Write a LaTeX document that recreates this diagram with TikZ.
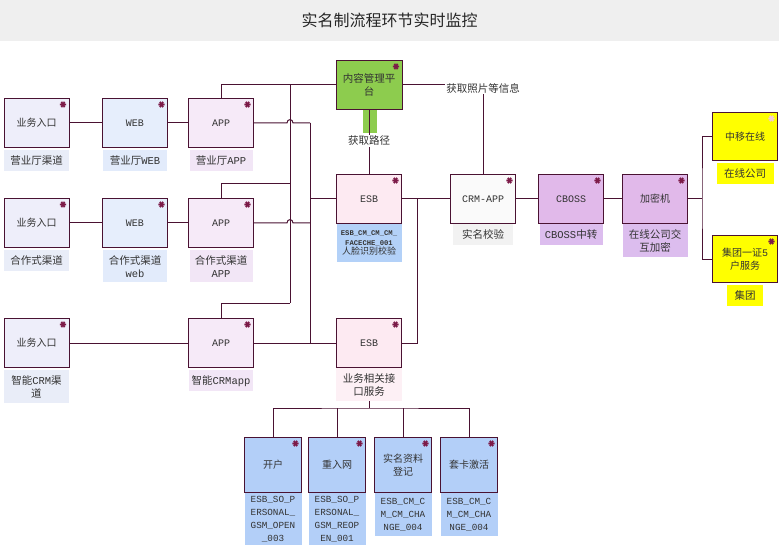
\documentclass[tikz,border=0pt]{standalone}
\usepackage{fontspec}
\setmainfont{Noto Sans CJK SC}
\newfontfamily\codef{Liberation Mono}
\usetikzlibrary{calc}

\definecolor{lc}{HTML}{4A1232}
\definecolor{mkcol}{HTML}{7C1A48}
\definecolor{mkpale}{HTML}{F4CADA}
\definecolor{txt}{HTML}{333333}
\definecolor{titlebg}{HTML}{EFEFEF}
\definecolor{entryfill}{HTML}{EEEEFA}
\definecolor{entrylbl}{HTML}{E9EDF8}
\definecolor{webfill}{HTML}{E6EEFC}
\definecolor{weblbl}{HTML}{E2EBFB}
\definecolor{appfill}{HTML}{F6EAF8}
\definecolor{applbl}{HTML}{F2E6F6}
\definecolor{esbfill}{HTML}{FDEAF2}
\definecolor{esbbluelbl}{HTML}{B3D1F8}
\definecolor{esbpinklbl}{HTML}{FDF0F5}
\definecolor{crmfill}{HTML}{FAFAFA}
\definecolor{crmlbl}{HTML}{F2F2F2}
\definecolor{cbossfill}{HTML}{E1B9EA}
\definecolor{cbosslbl}{HTML}{DCBDEE}
\definecolor{platfill}{HTML}{8DCC4E}
\definecolor{svcfill}{HTML}{B3CFF8}
\definecolor{yel}{HTML}{FFFF00}

% asterisk marker in the top right corner of a box
\newcommand\boxmark[2][mkcol]{%
  \path ($(#2.north east)+(-6.5,6.5)$) coordinate (mkpt);
  \draw[#1, line width=1.7pt]
    (mkpt) +(-3.1,0) -- +(3.1,0)
    (mkpt) +(-1.55,-2.7) -- +(1.55,2.7)
    (mkpt) +(-1.55,2.7) -- +(1.55,-2.7);}

\begin{document}
\begin{tikzpicture}[x=1pt, y=-1pt,
  box/.style={draw=lc, line width=1pt, minimum width=65pt, minimum height=49pt,
    inner sep=1pt, align=center, font=\fontsize{10}{13}\selectfont, text=txt},
  svc/.style={box, fill=svcfill, minimum width=57pt, minimum height=55pt},
  lbl/.style={anchor=north, inner xsep=2pt, inner ysep=5pt, align=center,
    minimum height=21pt, font=\fontsize{10.5}{13}\selectfont, text=txt},
  codelbl/.style={anchor=north, inner xsep=1pt, inner ysep=3pt, align=center,
    fill=svcfill, minimum width=57pt, text=black!80, font=\codef\fontsize{9.3}{13}\selectfont},
  conn/.style={draw=lc, line width=1pt}]

\useasboundingbox (0,0) rectangle (779,556);

% title bar
\node[fill=titlebg, minimum width=779pt, minimum height=41pt, anchor=north west,
  inner sep=0pt, font=\fontsize{16}{16}\selectfont, text=black!85] (title) at (0,0)
  {实名制流程环节实时监控};

% channel boxes
\node[box, fill=entryfill] (e1) at (36.5,123) {业务入口};
\node[box, fill=webfill]   (w1) at (135,123) {\codef WEB};
\node[box, fill=appfill]   (a1) at (221,123) {\codef APP};
\node[box, fill=entryfill] (e2) at (36.5,223) {业务入口};
\node[box, fill=webfill]   (w2) at (135,223) {\codef WEB};
\node[box, fill=appfill]   (a2) at (221,223) {\codef APP};
\node[box, fill=entryfill] (e3) at (36.5,343) {业务入口};
\node[box, fill=appfill]   (a3) at (221,343) {\codef APP};

% platform, bus and back-end boxes
\node[box, fill=platfill, minimum width=66pt, font=\fontsize{10.5}{13}\selectfont]
  (plat) at (369,85) {内容管理平\\台};
\node[box, fill=esbfill]   (esb1) at (369,199) {\codef ESB};
\node[box, fill=crmfill]   (crm) at (483,199) {\codef CRM-APP};
\node[box, fill=cbossfill] (cboss) at (571,199) {\codef CBOSS};
\node[box, fill=cbossfill] (enc) at (655,199) {加密机};
\node[box, fill=yel, minimum height=48pt] (y1) at (745,136.5) {中移在线};
\node[box, fill=yel, minimum height=47pt] (y2) at (745,259) {集团一证{\codef 5}\\户服务};
\node[box, fill=esbfill]   (esb2) at (369,343) {\codef ESB};

% service boxes
\node[svc] (b1) at (273,465) {开户};
\node[svc] (b2) at (337,465) {重入网};
\node[svc] (b3) at (403,465) {实名资料\\登记};
\node[svc] (b4) at (469,465) {套卡激活};

\node[font=\fontsize{10.5}{13}\selectfont, text=txt, inner sep=1pt] (info) at (483,88) {获取照片等信息};

% connectors
\coordinate (k1) at (290,85);
\coordinate (k2) at (290,184);
\coordinate (k3) at (290,303);
\coordinate (m1) at (310,123);
\coordinate (m2) at (310,199);
\coordinate (m3) at (310,343);
\coordinate (n1) at (417,199);
\coordinate (q1) at (702,199);
\coordinate (r1) at (369,408);

\draw[conn] (e1) -- (w1) -- (a1);
\draw[conn] (e2) -- (w2) -- (a2);
\draw[conn] (e3) -- (a3);

\draw[conn] (a1.north) |- (plat.west);
\draw[conn] (k1) -- (k3);
\draw[conn] (a2.north) |- (k2);
\draw[conn] (a3.north) |- (k3);

\draw[conn] (a1.east) -- (287,123) .. controls (287,118.5) and (293,118.5) .. (293,123) -- (m1);
\draw[conn] (a2.east) -- (287,223) .. controls (287,218.5) and (293,218.5) .. (293,223) -- (m1 |- a2.east);
\draw[conn] (m1) -- (m3);
\draw[conn] (m2) -- (esb1.west);
\draw[conn] (a3) -- (esb2);

\draw[conn] (esb1) -- (crm) -- (cboss) -- (enc);
\draw[conn] (n1) |- (esb2.east);
\draw[conn] (enc.east) -- (q1);
\draw[conn] (y1.west) -| (q1) |- (y2.west);

\draw[conn] (plat.east) -- (info.west |- plat.east);
\draw[conn] (info.south) -- (crm.north);

\fill[platfill] (362.5,110.5) rectangle (376.5,133);
\draw[conn] (plat.south) -- (esb1.north);
\node[fill=white, inner sep=1.5pt, font=\fontsize{10.5}{13}\selectfont, text=txt] (route) at (369,141) {获取路径};

\draw[conn] (esb2.south) -- (r1);
\draw[conn] (b1.north) |- (r1) -| (b4.north);
\draw[conn] (b2.north) -- (b2.north |- r1);
\draw[conn] (b3.north) -- (b3.north |- r1);

% captions under the boxes
\node[lbl, fill=entrylbl, minimum width=65pt] (e1l) at ($(e1.south)+(0,2)$) {营业厅渠道};
\node[lbl, fill=weblbl, minimum width=64pt] (w1l) at ($(w1.south)+(0,2)$) {营业厅{\codef WEB}};
\node[lbl, fill=applbl, minimum width=63pt] (a1l) at ($(a1.south)+(0,2)$) {营业厅{\codef APP}};
\node[lbl, fill=entrylbl, minimum width=65pt] (e2l) at ($(e2.south)+(0,2)$) {合作式渠道};
\node[lbl, fill=weblbl, minimum width=64pt] (w2l) at ($(w2.south)+(0,2)$) {合作式渠道\\{\codef web}};
\node[lbl, fill=applbl, minimum width=63pt] (a2l) at ($(a2.south)+(0,2)$) {合作式渠道\\{\codef APP}};
\node[lbl, fill=entrylbl, minimum width=65pt] (e3l) at ($(e3.south)+(0,2)$) {智能{\codef CRM}渠\\道};
\node[lbl, fill=applbl, minimum width=64pt] (a3l) at ($(a3.south)+(0,2)$) {智能{\codef CRMapp}};

\node[lbl, fill=esbbluelbl, minimum width=65pt, inner ysep=6.5pt,
  font=\codef\bfseries\fontsize{7.2}{9.6}\selectfont] (esb1l) at (esb1.south)
  {ESB\_CM\_CM\_CM\_\\FACECHE\_001\\
   \normalfont\fontsize{9}{11}\selectfont 人脸识别校验};
\node[lbl, fill=crmlbl, minimum width=60pt] (crml) at (crm.south) {实名校验};
\node[lbl, fill=cbosslbl, minimum width=63pt] (cbossl) at (cboss.south) {{\codef CBOSS}中转};
\node[lbl, fill=cbosslbl, minimum width=65pt] (encl) at (enc.south) {在线公司交\\互加密};
\node[lbl, fill=yel, minimum width=57pt] (y1l) at ($(y1.south)+(0,2)$) {在线公司};
\node[lbl, fill=yel, minimum width=36pt] (y2l) at ($(y2.south)+(0,2)$) {集团};
\node[lbl, fill=esbpinklbl, minimum width=66pt] (esb2l) at (esb2.south) {业务相关接\\口服务};

\node[codelbl] (b1l) at (b1.south) {ESB\_SO\_P\\ERSONAL\_\\GSM\_OPEN\\\_003};
\node[codelbl] (b2l) at (b2.south) {ESB\_SO\_P\\ERSONAL\_\\GSM\_REOP\\EN\_001};
\node[codelbl, inner ysep=5pt] (b3l) at (b3.south) {ESB\_CM\_C\\M\_CM\_CHA\\NGE\_004};
\node[codelbl, inner ysep=5pt] (b4l) at (b4.south) {ESB\_CM\_C\\M\_CM\_CHA\\NGE\_004};

% corner markers
\boxmark{e1}\boxmark{w1}\boxmark{a1}
\boxmark{e2}\boxmark{w2}\boxmark{a2}
\boxmark{e3}\boxmark{a3}
\boxmark{plat}\boxmark{esb1}\boxmark{crm}\boxmark{cboss}\boxmark{enc}
\boxmark[mkpale]{y1}\boxmark{y2}\boxmark{esb2}
\boxmark{b1}\boxmark{b2}\boxmark{b3}\boxmark{b4}
\end{tikzpicture}
\end{document}
